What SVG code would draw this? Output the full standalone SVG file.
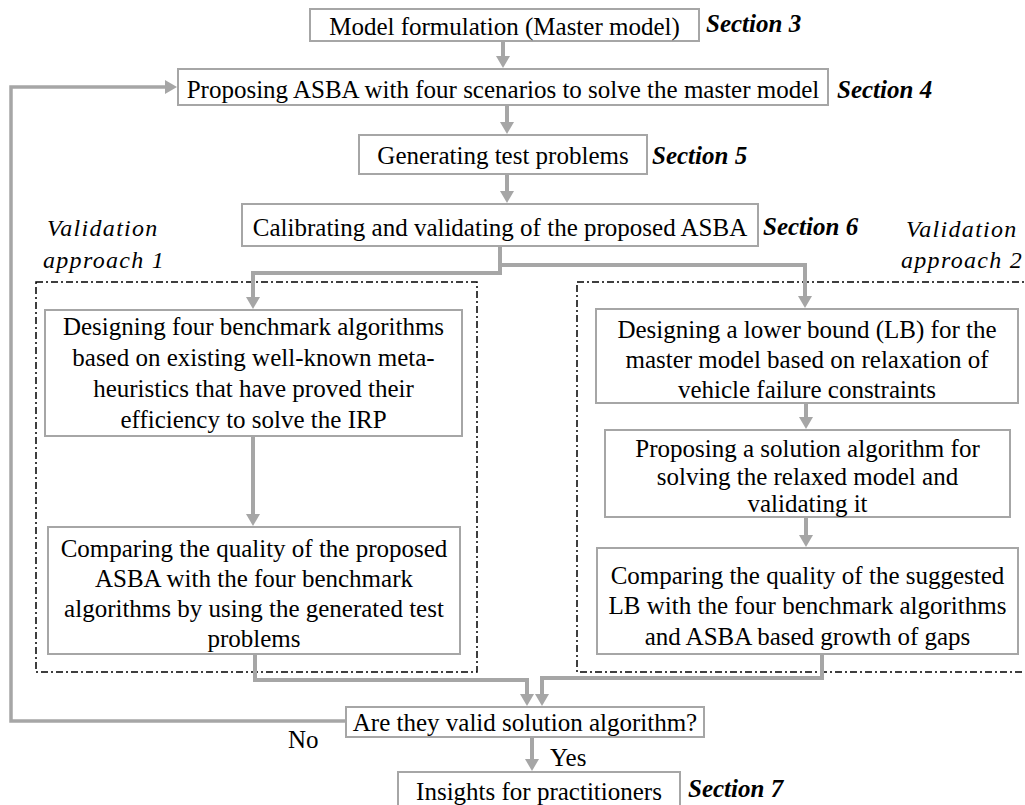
<svg xmlns="http://www.w3.org/2000/svg" width="1025" height="805" viewBox="0 0 1025 805">
  <style>
    .box { fill: #ffffff; stroke: #a6a6a6; stroke-width: 2; }
    .t { font-family: "Liberation Serif", "Times New Roman", serif; font-size: 25px; fill: #000; text-anchor: middle; }
    .tl { font-family: "Liberation Serif", "Times New Roman", serif; font-size: 25px; fill: #000; }
    .sec { font-family: "Liberation Serif", "Times New Roman", serif; font-size: 25px; font-weight: bold; font-style: italic; fill: #000; }
    .va { font-family: "Liberation Serif", "Times New Roman", serif; font-size: 24px; font-style: italic; fill: #000; letter-spacing: 1.3px; }
    .frame { fill: none; stroke: #000; stroke-width: 1.5; stroke-dasharray: 7 3 2 3; }
    .link { fill: none; stroke: #a6a6a6; stroke-width: 4; }
    .loop { fill: none; stroke: #a6a6a6; stroke-width: 3.5; }
  </style>
  <defs>
    <marker id="arr" markerUnits="userSpaceOnUse" viewBox="0 -8 13 16" refX="1" refY="0" markerWidth="13" markerHeight="16" orient="auto">
      <path d="M0,-7 L12,0 L0,7 z" fill="#a6a6a6"/>
    </marker>
  </defs>

  <rect width="1025" height="805" fill="#ffffff"/>

  <!-- dash-dot frames for the two validation approaches -->
  <g id="frame-approach-1">
    <rect class="frame" x="36" y="282" width="441" height="390"/>
    <text class="va" x="47" y="236">Validation</text>
    <text class="va" x="43" y="268">approach 1</text>
  </g>
  <g id="frame-approach-2">
    <rect class="frame" x="577" y="282" width="470" height="390"/>
    <text class="va" x="906" y="237">Validation</text>
    <text class="va" x="901" y="268">approach 2</text>
  </g>

  <!-- connectors -->
  <g id="connectors">
    <path class="link" d="M503,41 V57" marker-end="url(#arr)"/>
    <path class="link" d="M507,105 V123" marker-end="url(#arr)"/>
    <path class="link" d="M507,174 V192" marker-end="url(#arr)"/>
    <path class="link" d="M500,246 V273 H253 V298" marker-end="url(#arr)"/>
    <path class="link" d="M500,265 H805 V297" marker-end="url(#arr)"/>
    <path class="link" d="M253,436 V515" marker-end="url(#arr)"/>
    <path class="link" d="M806,403 V418" marker-end="url(#arr)"/>
    <path class="link" d="M806,517 V536" marker-end="url(#arr)"/>
    <path class="link" d="M255,654 V680 H527 V695" marker-end="url(#arr)"/>
    <path class="link" d="M822,654 V678 H542 V695" marker-end="url(#arr)"/>
    <path class="link" d="M532,737 V760" marker-end="url(#arr)"/>
    <path class="loop" d="M346,721 H11 V87 H166" marker-end="url(#arr)"/>
    <text class="tl" x="288" y="748">No</text>
    <text class="tl" x="550" y="766">Yes</text>
  </g>

  <!-- main flow -->
  <g id="model-formulation">
    <rect class="box" x="310" y="9" width="389" height="32"/>
    <text class="t" x="504.5" y="35">Model formulation (Master model)</text>
    <text class="sec" x="706" y="32">Section 3</text>
  </g>
  <g id="proposing-asba">
    <rect class="box" x="178" y="69" width="650" height="36"/>
    <text class="t" x="503" y="98">Proposing ASBA with four scenarios to solve the master model</text>
    <text class="sec" x="837" y="98">Section 4</text>
  </g>
  <g id="generating-tests">
    <rect class="box" x="359" y="135" width="288" height="39"/>
    <text class="t" x="503" y="164">Generating test problems</text>
    <text class="sec" x="652" y="164">Section 5</text>
  </g>
  <g id="calibrating">
    <rect class="box" x="242" y="204" width="516" height="42"/>
    <text class="t" x="500" y="236">Calibrating and validating of the proposed ASBA</text>
    <text class="sec" x="763" y="235">Section 6</text>
  </g>

  <!-- validation approach 1 -->
  <g id="benchmark-design">
    <rect class="box" x="45" y="310" width="417" height="126"/>
    <text class="t" x="253.5" y="335">Designing four benchmark algorithms</text>
    <text class="t" x="253.5" y="366">based on existing well-known meta-</text>
    <text class="t" x="253.5" y="397">heuristics that have proved their</text>
    <text class="t" x="253.5" y="428">efficiency to solve the IRP</text>
  </g>
  <g id="benchmark-compare">
    <rect class="box" x="48" y="527" width="412" height="127"/>
    <text class="t" x="254" y="557">Comparing the quality of the proposed</text>
    <text class="t" x="254" y="587">ASBA with the four benchmark</text>
    <text class="t" x="254" y="617">algorithms by using the generated test</text>
    <text class="t" x="254" y="647">problems</text>
  </g>

  <!-- validation approach 2 -->
  <g id="lower-bound">
    <rect class="box" x="596" y="309" width="422" height="94"/>
    <text class="t" x="807" y="338">Designing a lower bound (LB) for the</text>
    <text class="t" x="807" y="368">master model based on relaxation of</text>
    <text class="t" x="807" y="398">vehicle failure constraints</text>
  </g>
  <g id="relaxed-solver">
    <rect class="box" x="605" y="430" width="405" height="87"/>
    <text class="t" x="807.5" y="457">Proposing a solution algorithm for</text>
    <text class="t" x="807.5" y="485">solving the relaxed model and</text>
    <text class="t" x="807.5" y="512">validating it</text>
  </g>
  <g id="lb-compare">
    <rect class="box" x="597" y="548" width="421" height="106"/>
    <text class="t" x="807.5" y="584">Comparing the quality of the suggested</text>
    <text class="t" x="807.5" y="614">LB with the four benchmark algorithms</text>
    <text class="t" x="807.5" y="645">and ASBA based growth of gaps</text>
  </g>

  <!-- decision and outcome -->
  <g id="decision">
    <rect class="box" x="346" y="707" width="358" height="30"/>
    <text class="t" x="525" y="731">Are they valid solution algorithm?</text>
  </g>
  <g id="insights">
    <rect class="box" x="398" y="772" width="282" height="45"/>
    <text class="t" x="539" y="800">Insights for practitioners</text>
    <text class="sec" x="688" y="797">Section 7</text>
  </g>
</svg>
